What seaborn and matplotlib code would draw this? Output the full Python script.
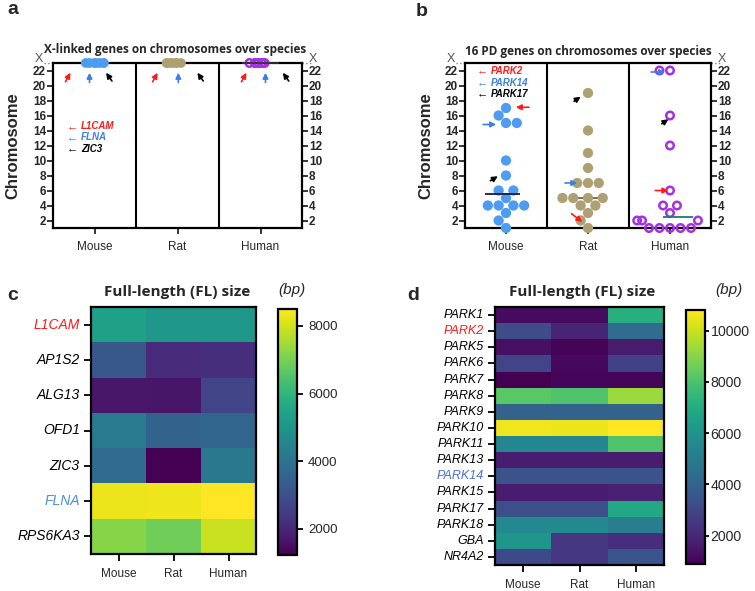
import matplotlib.pyplot as plt
import numpy as np
import pandas as pd
import seaborn as sns

sns.set_style("ticks")
plt.rcParams['font.family'] = ['Liberation Sans', 'DejaVu Sans']

species = ["Mouse", "Rat", "Human"]
colors = {"Mouse": "#4d9cf2", "Rat": "#ada173", "Human": "#a431e3"}

# panel a: X-linked genes (X chromosome coded as 23)
x_genes = ["L1CAM", "AP1S2", "ALG13", "OFD1", "ZIC3", "FLNA", "RPS6KA3"]
x_chr_mouse = [23, 23, 23, 23, 23, 23, 23]
x_chr_rat = [23, 23, 23, 23, 23, 23, 23]
x_chr_human = [23, 23, 23, 23, 23, 23, 23]

# panel b: 16 PD genes
pd_genes = ["PARK1", "PARK2", "PARK5", "PARK6", "PARK7", "PARK8", "PARK9", "PARK10",
            "PARK11", "PARK13", "PARK14", "PARK15", "PARK17", "PARK18", "GBA", "NR4A2"]
pd_chr_mouse = [6, 17, 5, 4, 4, 15, 4, 4, 1, 6, 15, 10, 8, 16, 3, 2]
pd_chr_rat = [4, 1, 14, 5, 5, 7, 5, 5, 9, 4, 7, 7, 19, 11, 2, 3]
pd_chr_human = [4, 6, 4, 1, 1, 12, 1, 1, 2, 2, 22, 22, 16, 3, 1, 2]

# panel c: full-length size (bp) of X-linked genes
fl_x_mouse = [5370, 3190, 1670, 4210, 3770, 8280, 7190]
fl_x_rat = [5080, 2100, 1650, 3480, 1230, 8320, 6900]
fl_x_human = [5080, 2180, 2680, 3560, 4140, 8500, 7920]

# panel d: full-length size (bp) of PD genes
fl_pd_mouse = [1200, 3180, 1300, 2880, 900, 8230, 3970, 10600, 5450, 1690, 3380, 1700, 3280, 5550, 6050, 3080]
fl_pd_rat = [1200, 1890, 1000, 1100, 1050, 8030, 3970, 10500, 5450, 1690, 3380, 1700, 3280, 5550, 2480, 2480]
fl_pd_human = [7140, 4370, 1600, 2780, 1050, 9320, 3970, 10800, 8030, 1700, 3450, 1800, 6840, 5060, 2190, 3470]


def long_df(genes, m, r, h):
    return pd.DataFrame({
        "gene": genes * 3,
        "species": ["Mouse"] * len(m) + ["Rat"] * len(r) + ["Human"] * len(h),
        "chrom": m + r + h,
    })


def chrom_axis(ax):
    ax.set_ylim(1, 23)
    ax.set_xlim(-0.5, 2.5)
    ax.set_yticks(range(2, 23, 2))
    ax.set_xticks([0, 1, 2], species)
    ax.tick_params(axis='y', left=True, right=True, labelleft=True, labelright=True,
                   length=4, width=1.3, labelsize=8.5, pad=1)
    ax.tick_params(axis='x', length=4, width=1.3, labelsize=8.5, pad=5)
    for t in ax.yaxis.get_major_ticks():
        t.label1.set_fontweight('bold')
        t.label2.set_fontweight('bold')
    for s in ax.spines.values():
        s.set_visible(True)
        s.set_linewidth(1.6)
        s.set_color('black')
    ax.axvline(0.5, color='black', lw=1.5, zorder=1)
    ax.axvline(1.5, color='black', lw=1.5, zorder=1)
    ax.set_xlabel('')
    ax.set_ylabel('Chromosome', fontsize=12, fontweight='bold')
    ax.yaxis.set_label_coords(-0.13, 0.5)
    tr = ax.get_yaxis_transform()
    for xx, xt in [(-0.036, -0.058), (1.0, 1.044)]:
        ax.plot([xx, xx + 0.036], [23, 23], transform=tr, ls=':', color='gray', lw=1, clip_on=False)
        ax.text(xt, 23.5, 'X', transform=tr, ha='center', va='center', fontsize=9, color='#555555')


def arrow(ax, tail, head, color, lw=1.2, ms=8):
    ax.annotate('', xy=head, xytext=tail,
                arrowprops=dict(arrowstyle='-|>', color=color, lw=lw, mutation_scale=ms,
                                shrinkA=0, shrinkB=0), annotation_clip=False)


def key(ax, x0, ys, names, cols):
    for y, n, c in zip(ys, names, cols):
        ax.text(x0, y, '\u2190', color=c, fontsize=8, va='center', ha='left')
        ax.text(x0 + 0.17, y, n, color=c, fontsize=7, fontweight='bold', style='italic', va='center', ha='left')


W, H = 755, 591
fig = plt.figure(figsize=(W / 100, H / 100), dpi=100)


def rect(l, t, r, b):
    return [l / W, 1 - b / H, (r - l) / W, (b - t) / H]


red, blue, black = "#ff1a1a", "#3d7fe0", "black"

# ---------- panel a ----------
axa = fig.add_axes(rect(53, 63, 302, 228))
dfa = long_df(x_genes, x_chr_mouse, x_chr_rat, x_chr_human)
np.random.seed(3)
sns.stripplot(data=dfa[dfa.species != "Human"], x="species", y="chrom", hue="species", order=species,
              palette=colors, jitter=0.14, size=7, linewidth=0, legend=False, ax=axa, clip_on=False, zorder=3)
sns.stripplot(data=dfa[dfa.species == "Human"], x="species", y="chrom", order=species,
              color=colors["Human"], jitter=0.14, size=5.4, linewidth=0, legend=False, ax=axa, clip_on=False, zorder=3)
hc = axa.collections[-1]
hc.set_facecolor('none')
hc.set_edgecolor(colors["Human"])
hc.set_linewidth(1.8)
axa.hlines(np.median(x_chr_human), 1.78, 2.22, color='#333333', lw=1.2, zorder=4, clip_on=False)
chrom_axis(axa)
for i, offs in enumerate([(-0.29, -0.06, 0.14), (-0.24, 0.01, 0.24), (-0.17, 0.06, 0.27)]):
    arrow(axa, (i + offs[0] - 0.06, 20.5), (i + offs[0], 21.7), red)
    arrow(axa, (i + offs[1], 20.4), (i + offs[1], 21.7), blue)
    arrow(axa, (i + offs[2] + 0.07, 20.6), (i + offs[2], 21.7), black)
key(axa, -0.33, [14.6, 13.1, 11.6], ["L1CAM", "FLNA", "ZIC3"], [red, blue, black])

# ---------- panel b ----------
axb = fig.add_axes(rect(465, 63, 711, 228))
dfb = long_df(pd_genes, pd_chr_mouse, pd_chr_rat, pd_chr_human)
sns.swarmplot(data=dfb[dfb.species != "Human"], x="species", y="chrom", hue="species", order=species,
              palette=colors, size=7.4, linewidth=0, legend=False, ax=axb, clip_on=False, zorder=3)
sns.swarmplot(data=dfb[dfb.species == "Human"], x="species", y="chrom", order=species,
              color=colors["Human"], size=5.4, linewidth=0, legend=False, ax=axb, clip_on=False, zorder=3)
hc = axb.collections[-1]
hc.set_facecolor('none')
hc.set_edgecolor(colors["Human"])
hc.set_linewidth(1.8)
axb.hlines(np.median(pd_chr_mouse), -0.26, 0.17, color='#1a1a40', lw=1.3, zorder=4)
axb.hlines(np.median(pd_chr_rat), 0.78, 1.22, color='#6b6440', lw=1.3, zorder=2)
axb.hlines(np.median(pd_chr_human), 1.92, 2.28, color='#1f7a78', lw=1.3, zorder=4)
chrom_axis(axb)
# mouse
arrow(axb, (0.28, 17.1), (0.12, 17.1), red)
arrow(axb, (-0.28, 14.8), (-0.12, 14.8), blue)
arrow(axb, (-0.19, 7.3), (-0.1, 7.9), black)
# rat
arrow(axb, (0.83, 17.9), (0.91, 18.5), black)
arrow(axb, (0.72, 7.0), (0.87, 7.0), blue)
arrow(axb, (0.8, 2.9), (0.93, 1.8), red)
# human
arrow(axb, (1.77, 21.8), (1.94, 21.8), blue)
arrow(axb, (1.9, 14.9), (1.98, 15.5), black)
arrow(axb, (1.82, 6.0), (1.98, 6.0), red)
key(axb, -0.36, [22.0, 20.4, 18.9], ["PARK2", "PARK14", "PARK17"], [red, blue, black])


# ---------- heatmaps ----------
def heat(ax, cax, genes, m, r, h, ticks, lab_colors, ylab_size, cbar_size, cb_len, cb_pad):
    df = pd.DataFrame({"Mouse": m, "Rat": r, "Human": h}, index=genes)
    sns.heatmap(df, ax=ax, cbar_ax=cax, cmap="viridis", xticklabels=True, yticklabels=True)
    ax.set_xlabel('')
    ax.set_ylabel('')
    for s in ax.spines.values():
        s.set_visible(True)
        s.set_linewidth(1.6)
        s.set_color('black')
    ax.tick_params(axis='both', length=5, width=1.3, color='black', left=True, bottom=True)
    ax.tick_params(axis='x', labelsize=8.5, pad=5)
    ax.tick_params(axis='y', labelsize=ylab_size, pad=3)
    for lbl in ax.get_yticklabels():
        lbl.set_rotation(0)
        lbl.set_style('italic')
        lbl.set_color(lab_colors.get(lbl.get_text(), 'black'))
    cax.set_yticks(ticks)
    cax.tick_params(labelsize=cbar_size, length=cb_len, width=1.3, color='black', pad=cb_pad)
    cb = ax.collections[0].colorbar
    cb.outline.set_visible(True)
    cb.outline.set_linewidth(1.6)
    cb.outline.set_edgecolor('black')


axc = fig.add_axes(rect(91, 307, 256, 554))
caxc = fig.add_axes(rect(278, 309, 297, 555))
heat(axc, caxc, x_genes, fl_x_mouse, fl_x_rat, fl_x_human, [2000, 4000, 6000, 8000],
     {"L1CAM": red, "FLNA": "#4a90d9"}, 10, 9.5, 4, 4)

axd = fig.add_axes(rect(495, 307, 664, 565))
caxd = fig.add_axes(rect(686, 310, 705, 564))
heat(axd, caxd, pd_genes, fl_pd_mouse, fl_pd_rat, fl_pd_human, [2000, 4000, 6000, 8000, 10000],
     {"PARK2": red, "PARK14": "#4a6fd9"}, 9.0, 10.2, 3, 1)

# ---------- titles and panel letters ----------
fig.text(175 / W, 1 - 49 / H, "X-linked genes on chromosomes over species", ha='center', va='center',
         fontsize=8.5, fontweight='bold', family=['Open Sans', 'DejaVu Sans'])
fig.text(588 / W, 1 - 52 / H, "16 PD genes on chromosomes over species", ha='center', va='center',
         fontsize=8.5, fontweight='bold', family=['Open Sans', 'DejaVu Sans'])
for xc in (177, 582):
    fig.text(xc / W, 1 - 292 / H, "Full-length (FL) size", ha='center', va='center',
             fontsize=11, fontweight='bold', family=['Open Sans', 'DejaVu Sans'])
fig.text(292 / W, 1 - 290 / H, "(bp)", ha='center', va='center', fontsize=11, style='italic')
fig.text(729 / W, 1 - 290 / H, "(bp)", ha='center', va='center', fontsize=11, style='italic')
for lt, x, y in [("a", 13, 10), ("b", 422, 12), ("c", 13, 295), ("d", 413, 295)]:
    fig.text(x / W, 1 - y / H, lt, ha='center', va='center', fontsize=14, fontweight='bold')

fig.savefig("out.png", dpi=100)
